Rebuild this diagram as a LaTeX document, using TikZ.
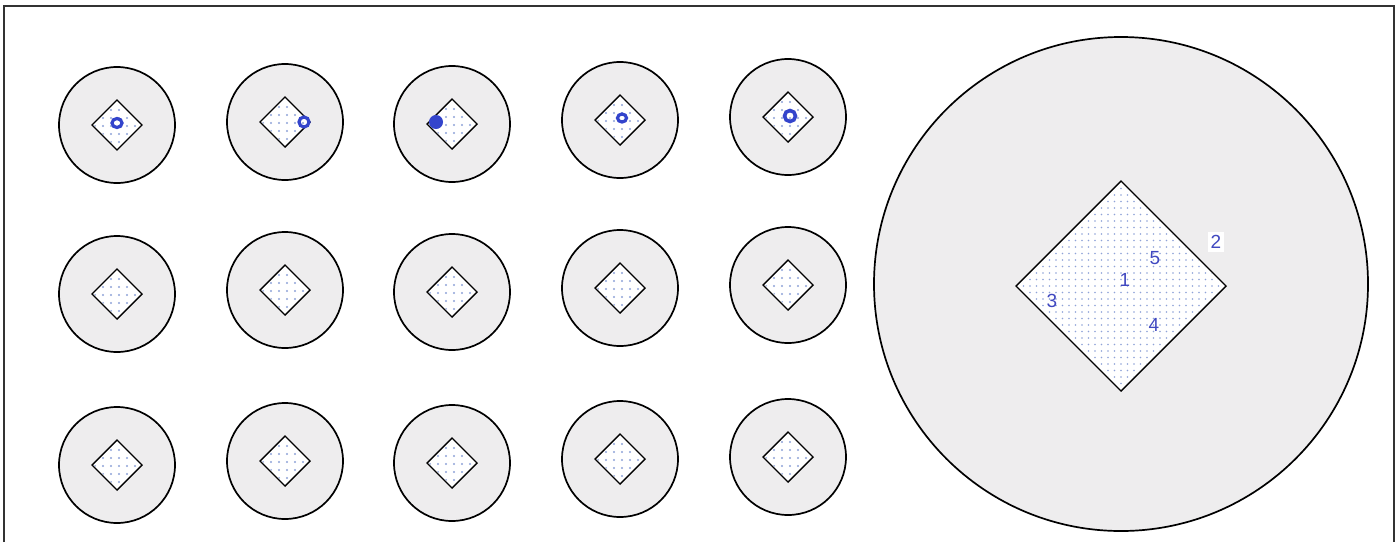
\documentclass[tikz,border=0pt]{standalone}
\usepackage{fontspec}
\setmainfont{Liberation Sans}
\definecolor{cfill}{HTML}{EEEDEE}
\definecolor{mblue}{HTML}{3344CC}
\definecolor{dblue}{HTML}{8FA3D8}
\definecolor{tblue}{HTML}{4048C0}
\tikzset{
  disc/.style={draw=black,line width=1.7pt,fill=cfill},
  dia/.style={draw=black,line width=1.4pt,fill=white},
  ringmark/.style={draw=mblue,line width=3.2pt},
  lab/.style={text=tblue,font=\fontsize{19}{19}\selectfont,inner sep=1pt}
}
\begin{document}
\begin{tikzpicture}[x=1pt,y=-1pt]
\useasboundingbox (0,0) rectangle (1400,542);
\draw[line width=1.2pt,color=black!80] (4,542) -- (4,6) -- (1394,6) -- (1394,542);
% small circles
\foreach \cx/\cy/\n in {117/125/a1,285/122/a2,452/124/a3,620/120/a4,788/117/a5,
                        117/294/b1,285/290/b2,452/292/b3,620/288/b4,788/285/b5,
                        117/465/c1,285/461/c2,452/463/c3,620/459/c4,788/457/c5}{
  \path[disc] (\cx,\cy) circle (58);
  \path[dia] (\cx-25,\cy) -- (\cx,\cy-25) -- (\cx+25,\cy) -- (\cx,\cy+25) -- cycle;
  \begin{scope}
    \clip (\cx-23,\cy) -- (\cx,\cy-23) -- (\cx+23,\cy) -- (\cx,\cy+23) -- cycle;
    \foreach \i in {-3,...,3}{\foreach \j in {-3,...,3}{
      \fill[dblue] (\cx+\i*8+2,\cy+\j*8+1) circle (1.1);}}
  \end{scope}
  \coordinate (\n) at (\cx,\cy);
}
% blue ring markers
\draw[ringmark] (117,123) ellipse (5 and 4.5);
\draw[ringmark] (304,122) circle (5);
\fill[mblue] (436,122) circle (7);
\draw[ringmark] (622,118) ellipse (4.5 and 4);
\draw[ringmark,line width=3.6pt] (790,116) circle (5.5);
% big circle
\path[disc] (1121,284) circle (247);
\path[dia] (1016,286) -- (1121,181) -- (1226,286) -- (1121,391) -- cycle;
\begin{scope}
  \clip (1018,286) -- (1121,183) -- (1224,286) -- (1121,389) -- cycle;
  \foreach \i in {-16,...,16}{\foreach \j in {-16,...,16}{
    \fill[dblue] (1121+\i*6.5,286+\j*6.5) circle (0.9);}}
\end{scope}
\node[lab] (n1) at (1125,280) {1};
\node[lab,fill=white,inner sep=3pt] (n2) at (1216,242) {2};
\node[lab] (n3) at (1052,301) {3};
\node[lab] (n4) at (1154,325) {4};
\node[lab] (n5) at (1155,258) {5};
\end{tikzpicture}
\end{document}
